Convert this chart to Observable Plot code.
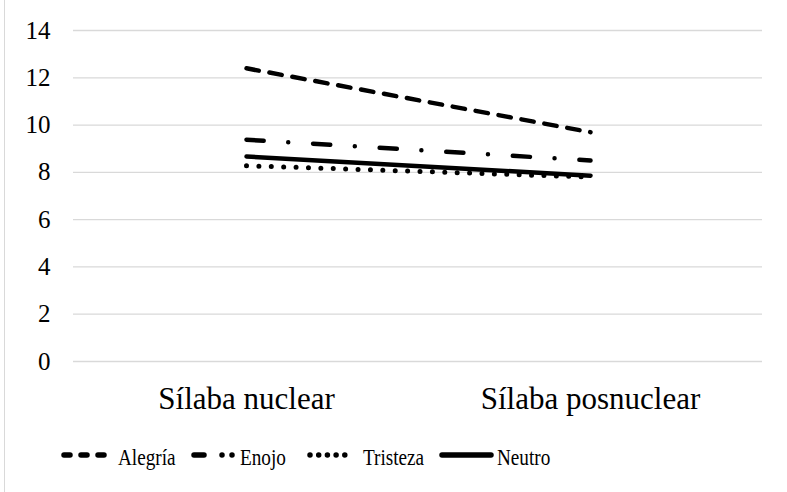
<!DOCTYPE html>
<html>
<head>
<meta charset="utf-8">
<script src="https://cdn.jsdelivr.net/npm/d3@7"></script>
<script src="https://cdn.jsdelivr.net/npm/@observablehq/plot@0.6"></script>
</head>
<body style="margin:0;background:#fff">
<div id="wrap" style="position:relative;width:787px;height:492px;overflow:hidden">
  <div style="position:absolute;left:4px;top:0;width:1px;height:492px;background:#d9d9d9"></div>
  <div id="chart"></div>
  <div id="legend"></div>
</div>
<script>
// ---- data ----
const categories = ["Sílaba nuclear", "Sílaba posnuclear"];
const seriesNames = ["Alegría", "Enojo", "Tristeza", "Neutro"];
const alegria = [12.4, 9.7];
const enojo = [9.38, 8.5];
const tristeza = [8.28, 7.8];
const neutro = [8.67, 7.86];
const yTicks = [0, 2, 4, 6, 8, 10, 12, 14];

// ---- styles ----
const seriesValues = [alegria, enojo, tristeza, neutro];
const dashes = ["12.5,10.8", "17.2,24.6,0,24.9", "0,12.4", null];
const legendDashes = ["6,11", "10,18,0,10,0,200", "0,8.7", null];

const rows = seriesValues.map((vals, s) =>
  categories.map((c, i) => ({series: seriesNames[s], cat: c, value: vals[i]}))
);

const lineMarks = rows.map((data, s) =>
  Plot.line(data, {
    x: "cat", y: "value",
    stroke: "#000", strokeWidth: s === 2 ? 5 : 4.5,
    strokeLinecap: "round", strokeLinejoin: "round",
    strokeDasharray: dashes[s] || undefined
  })
);

const chart = Plot.plot({
  width: 787,
  height: 430,
  marginLeft: 73,
  marginRight: 25,
  marginTop: 30,
  marginBottom: 69,
  style: {fontFamily: "Liberation Serif", background: "transparent", color: "#000", display: "block"},
  x: {type: "point", domain: categories, padding: 0.5},
  y: {domain: [0, 14]},
  marks: [
    Plot.gridY(yTicks, {stroke: "#d9d9d9", strokeOpacity: 1, strokeWidth: 1.3}),
    Plot.axisY(yTicks, {tickSize: 0, tickPadding: 23, fontSize: 25, fontFamily: "Liberation Serif", label: null}),
    Plot.axisX({tickSize: 0, tickPadding: 25, fontSize: 31, fontFamily: "Liberation Serif", label: null}),
    ...lineMarks
  ]
});
document.getElementById("chart").appendChild(chart);

// ---- legend ----
const lx = [
  {sw0: 64, sw1: 106, tx: 118},
  {sw0: 194, sw1: 236, tx: 240},
  {sw0: 310, sw1: 350, tx: 363},
  {sw0: 442, sw1: 491, tx: 497}
];
const leg = d3.create("svg").attr("width", 787).attr("height", 62).style("display", "block");
seriesNames.forEach((name, s) => {
  const p = lx[s];
  leg.append("line")
    .attr("x1", p.sw0).attr("x2", p.sw1)
    .attr("y1", 25).attr("y2", 25)
    .attr("stroke", "#000").attr("stroke-width", 5.5)
    .attr("stroke-linecap", "round")
    .attr("stroke-dasharray", legendDashes[s]);
  leg.append("text")
    .attr("transform", `translate(${p.tx},35) scale(0.8,1)`)
    .attr("font-family", "Liberation Serif")
    .attr("font-size", 24)
    .attr("fill", "#000")
    .text(name);
});
document.getElementById("legend").appendChild(leg.node());
</script>
</body>
</html>
